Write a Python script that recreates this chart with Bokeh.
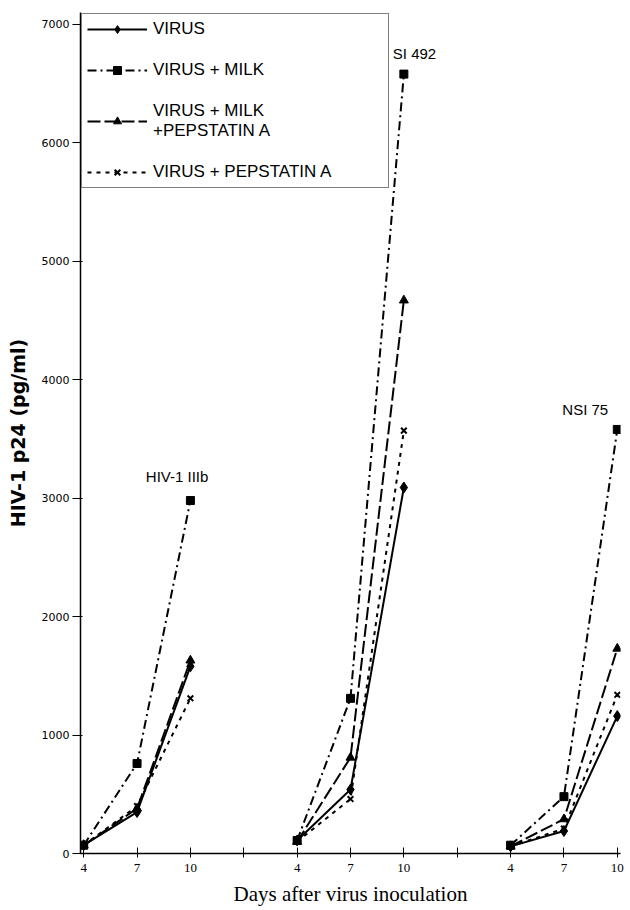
from bokeh.plotting import figure
from bokeh.models import Range1d, FixedTicker, Legend, LegendItem, Label
from bokeh.embed import file_html
from bokeh.resources import INLINE

# ---- data ----
group_names = ["HIV-1 IIIb", "SI 492", "NSI 75"]
group_x = [[0, 1, 2], [4, 5, 6], [8, 9, 10]]          # slot of each day on the axis
tick_slots = [0, 1, 2, 3, 4, 5, 6, 7, 8, 9, 10]
tick_labels = ["4", "7", "10", "", "4", "7", "10", "", "4", "7", "10"]

virus = [[70, 350, 1580], [110, 540, 3090], [60, 190, 1160]]
virus_milk = [[70, 760, 2980], [110, 1310, 6580], [70, 480, 3580]]
virus_milk_pep = [[70, 380, 1630], [100, 810, 4670], [60, 290, 1730]]
virus_pep = [[70, 400, 1310], [100, 460, 3570], [60, 210, 1340]]

series = [
    ("VIRUS", virus, "solid", "diamond", 11),
    ("VIRUS + MILK", virus_milk, "9 4 2 4", "square", 8),
    ("VIRUS + MILK\n+PEPSTATIN A", virus_milk_pep, "13 4", "triangle", 9),
    ("VIRUS + PEPSTATIN A", virus_pep, "4 5", "x", 8),
]

label_pos = [(1.75, 3180), (6.2, 6750), (9.4, 3750)]

p = figure(width=630, height=908, output_backend="svg", toolbar_location=None,
           x_range=Range1d(-0.06, 10.06), y_range=Range1d(0, 7100),
           min_border_left=80, min_border_right=10, min_border_top=12,
           min_border_bottom=0)
p.outline_line_color = None
p.grid.visible = False
p.background_fill_color = "white"

items = []
for name, data, dash, marker, size in series:
    rends = []
    for gi, xs in enumerate(group_x):
        lr = p.line(xs, data[gi], line_color="black", line_width=2, line_dash=dash)
        sr = p.scatter(xs, data[gi], marker=marker, size=size, fill_color="black",
                       line_color="black", line_width=2 if marker == "x" else 1)
        if gi == 0:
            rends = [lr, sr]
    items.append(LegendItem(label=name, renderers=rends))

for (lx, ly), txt in zip(label_pos, group_names):
    p.add_layout(Label(x=lx, y=ly, text=txt, text_align="center", text_baseline="middle",
                       text_font="Liberation Sans", text_font_size="15px", text_color="black"))

legend = Legend(items=items, location="top_left", margin=1, padding=5,
                glyph_width=60, glyph_height=20, label_height=20, label_width=230,
                label_standoff=6, spacing=21,
                label_text_font="Liberation Sans", label_text_font_size="17px",
                label_text_color="black",
                border_line_color="black", border_line_width=1, background_fill_alpha=1.0)
p.add_layout(legend)

# x axis
p.xaxis.ticker = FixedTicker(ticks=tick_slots)
p.xaxis.major_label_overrides = {s: l for s, l in zip(tick_slots, tick_labels)}
p.xaxis.minor_tick_line_color = None
p.xaxis.major_tick_in = 6
p.xaxis.major_tick_out = 4
p.xaxis.axis_line_color = "black"
p.xaxis.axis_line_width = 1.5
p.xaxis.major_label_text_font = "Liberation Serif"
p.xaxis.major_label_text_font_size = "13px"
p.xaxis.major_label_text_color = "black"
p.xaxis.major_label_standoff = 6
p.xaxis.axis_label = "Days after virus inoculation"
p.xaxis.axis_label_text_font = "Liberation Serif"
p.xaxis.axis_label_text_font_style = "normal"
p.xaxis.axis_label_text_font_size = "21px"
p.xaxis.axis_label_text_color = "black"
p.xaxis.axis_label_standoff = 7

# y axis
p.yaxis.ticker = FixedTicker(ticks=[0, 1000, 2000, 3000, 4000, 5000, 6000, 7000])
p.yaxis.minor_tick_line_color = None
p.yaxis.major_tick_in = 2
p.yaxis.major_tick_out = 8
p.yaxis.axis_line_width = 1.5
p.yaxis.major_label_text_font = "DejaVu Sans"
p.yaxis.major_label_text_font_size = "11px"
p.yaxis.major_label_text_color = "black"
p.yaxis.major_label_standoff = 3
p.yaxis.axis_label = "HIV-1 p24 (pg/ml)"
p.yaxis.axis_label_text_font = "DejaVu Sans"
p.yaxis.axis_label_text_font_style = "bold"
p.yaxis.axis_label_text_font_size = "19px"
p.yaxis.axis_label_text_color = "black"
p.yaxis.axis_label_standoff = 10

open("out.html", "w").write(file_html(p, INLINE))
